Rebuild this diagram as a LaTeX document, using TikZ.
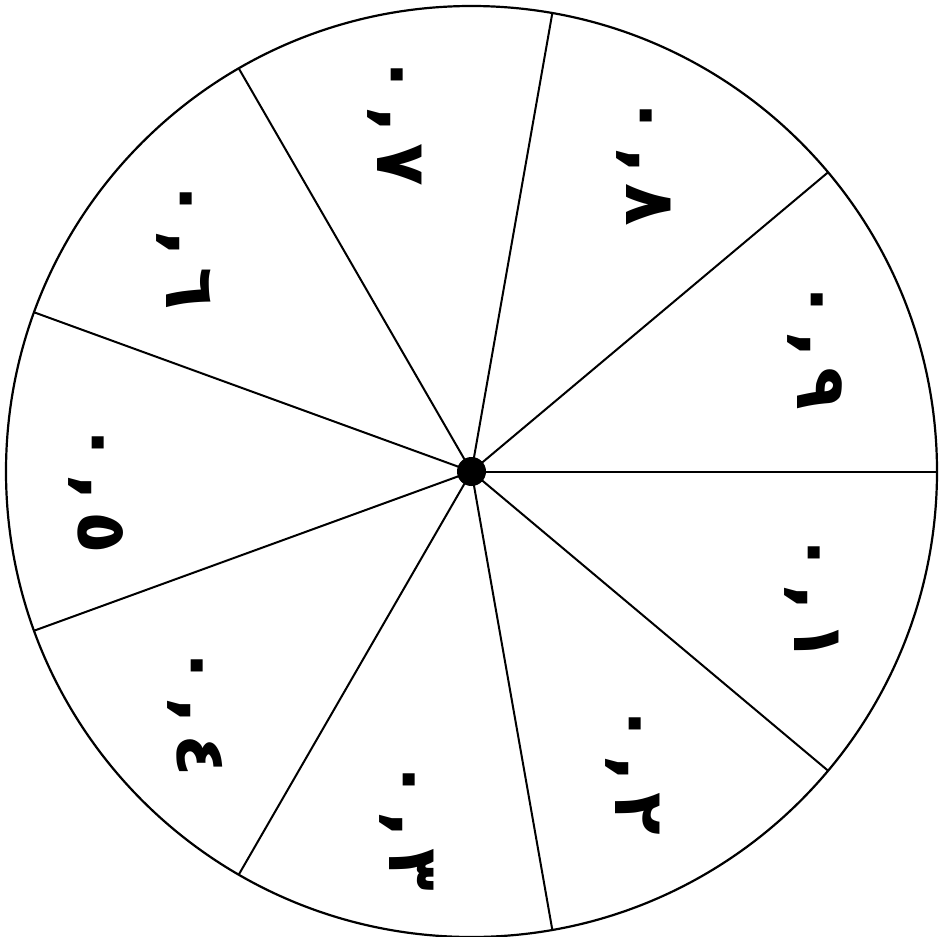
\documentclass[tikz,border=0pt]{standalone}
\usepackage{fontspec}
\newfontfamily\arabicfont[Script=Arabic]{DejaVu Sans}
\newcommand{\gp}{\hspace{10pt}}
\begin{document}
\begin{tikzpicture}[x=1pt,y=-1pt,
  rim/.style={line width=2.2pt, draw=black},
  spoke/.style={line width=2pt, draw=black},
  lbl/.style={font=\arabicfont\bfseries\fontsize{70}{70}\selectfont, rotate=-90, anchor=base, inner sep=0pt}]
\useasboundingbox (0,0) rectangle (940,937);
\coordinate (c) at (471.5,471.5);
\draw[rim] (c) circle[radius=465.5];
\foreach \a [count=\i] in {0,40,80,120,160,200,240,280,320}
  \draw[spoke] (c) -- ++(\a:465.5) coordinate (e\i);
\fill[black] (c) circle[radius=14.5];
\node[lbl] (l1) at (794.5,597.5) {٠\gp,\gp١};
\node[lbl] (l9) at (797.5,344.5) {٠\gp,\gp٩};
\node[lbl] (l8) at (626.5,160.5) {٠\gp,\gp٨};
\node[lbl] (l7) at (377,120) {٠\gp,\gp٧};
\node[lbl] (l6) at (166.5,244) {٠\gp,\gp٦};
\node[lbl] (l5) at (78.5,488) {٠\gp,\gp٥};
\node[lbl] (l4) at (177,711) {٠\gp,\gp٤};
\node[lbl] (l3) at (389.5,825) {٠\gp,\gp٣};
\node[lbl] (l2) at (615,769) {٠\gp,\gp٢};
\end{tikzpicture}
\end{document}
